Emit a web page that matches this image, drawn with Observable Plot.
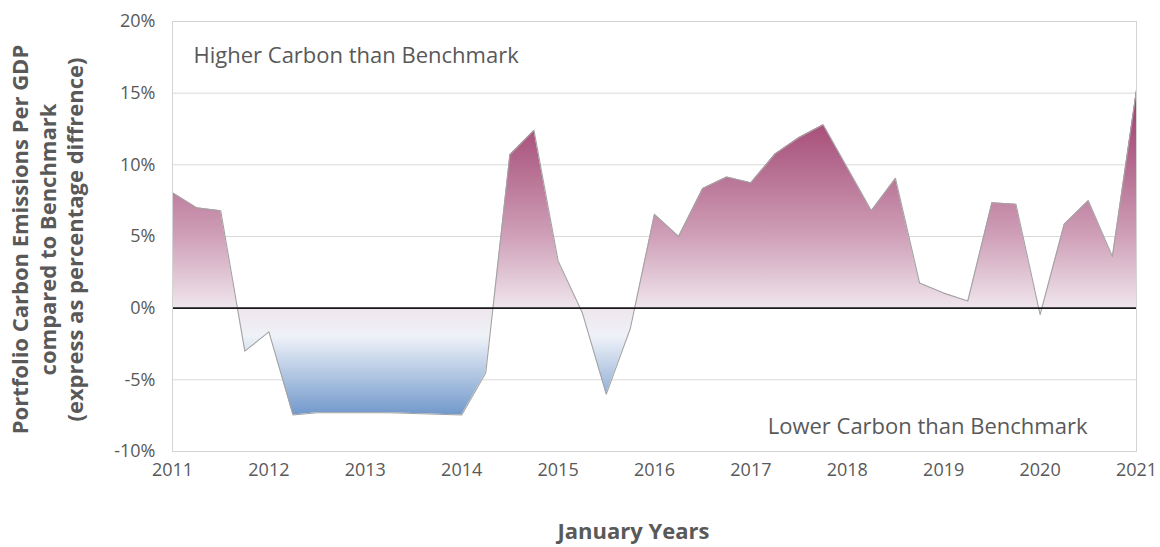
<!DOCTYPE html>
<html><head><meta charset="utf-8">
<script src="https://cdn.jsdelivr.net/npm/d3@7"></script>
<script src="https://cdn.jsdelivr.net/npm/@observablehq/plot@0.6"></script>
<style>body{margin:0;background:#fff;}</style>
</head><body><div id="chart"></div>
<script>
// Quarterly observation dates (decimal years)
const dates = [
  2011.00, 2011.25, 2011.50, 2011.75,
  2012.00, 2012.25, 2012.50, 2012.75,
  2013.00, 2013.25, 2013.50, 2013.75,
  2014.00, 2014.25, 2014.50, 2014.75,
  2015.00, 2015.25, 2015.50, 2015.75,
  2016.00, 2016.25, 2016.50, 2016.75,
  2017.00, 2017.25, 2017.50, 2017.75,
  2018.00, 2018.25, 2018.50, 2018.75,
  2019.00, 2019.25, 2019.50, 2019.75,
  2020.00, 2020.25, 2020.50, 2020.75,
  2021.00
];
// Portfolio vs benchmark difference (%)
const values = [
  8.05, 7.0, 6.8, -3.0,
  -1.65, -7.45, -7.3, -7.3,
  -7.3, -7.3, -7.35, -7.4,
  -7.45, -4.5, 10.7, 12.4,
  3.3, -0.3, -6.0, -1.4,
  6.55, 5.0, 8.35, 9.15,
  8.75, 10.75, 11.9, 12.8,
  9.8, 6.8, 9.05, 1.75,
  1.05, 0.5, 7.35, 7.25,
  -0.45, 5.85, 7.5, 3.6,
  15.2
];
const yTicks = [-10, -5, 0, 5, 10, 15, 20];
const xTicks = [2011, 2012, 2013, 2014, 2015, 2016, 2017, 2018, 2019, 2020, 2021];
const yTitleLines = [
  "Portfolio Carbon Emissions Per GDP",
  "compared to Benchmark",
  "(express as percentage diffrence)"
];
const xTitle = ["January Years"];
const higherLabel = ["Higher Carbon than Benchmark"];
const lowerLabel = ["Lower Carbon than Benchmark"];

const data = dates.map((d, i) => ({date: d, value: values[i]}));
const textColor = "#595959";
const font = "'Open Sans', sans-serif";

const chart = Plot.plot({
  width: 1160, height: 547,
  marginLeft: 172, marginRight: 24, marginTop: 21, marginBottom: 96,
  style: {fontFamily: font, fontSize: "18px", color: textColor, background: "#fff"},
  x: {domain: [2011, 2021], label: null},
  y: {domain: [-10, 20], label: null},
  marks: [
    Plot.gridY(yTicks, {stroke: "#d9d9d9", strokeOpacity: 1}),
    Plot.areaY(data, {x: "date", y1: 0, y2: "value", fill: "url(#carbonGrad)", curve: "linear"}),
    Plot.lineY(data, {x: "date", y: "value", stroke: "#a3a3a3", strokeWidth: 1.1}),
    Plot.ruleY([0], {stroke: "#1a1a1a", strokeWidth: 1.6}),
    Plot.frame({stroke: "#d3d3d3"}),
    Plot.axisY(yTicks, {tickSize: 0, tickPadding: 17, tickFormat: d => d + "%", fontSize: 18, fill: textColor, label: null}),
    Plot.axisX(xTicks, {tickSize: 0, tickPadding: 12, tickFormat: d => String(d), fontSize: 18, fill: textColor, label: null}),
    Plot.text(xTitle, {frameAnchor: "bottom", dx: -21, dy: 80, lineAnchor: "middle", fontWeight: "bold", fontSize: 22, fill: textColor}),
    Plot.text([yTitleLines[0]], {frameAnchor: "left", rotate: -90, dx: -152, dy: 3, textAnchor: "middle", fontWeight: "bold", fontSize: 22, fill: textColor}),
    Plot.text([yTitleLines[1]], {frameAnchor: "left", rotate: -90, dx: -124, dy: 3, textAnchor: "middle", fontWeight: "bold", fontSize: 22, fill: textColor}),
    Plot.text([yTitleLines[2]], {frameAnchor: "left", rotate: -90, dx: -97, dy: 3, textAnchor: "middle", fontWeight: "bold", fontSize: 22, fill: textColor}),
    Plot.text(higherLabel, {frameAnchor: "top-left", dx: 21, dy: 34, textAnchor: "start", lineAnchor: "middle", fontSize: 22, fill: textColor}),
    Plot.text(lowerLabel, {frameAnchor: "bottom-right", dx: -49, dy: -25, textAnchor: "end", lineAnchor: "middle", fontSize: 22, fill: textColor})
  ]
});

// vertical gradient tied to the y scale
const ys = chart.scale("y");
const ns = "http://www.w3.org/2000/svg";
const defs = document.createElementNS(ns, "defs");
const grad = document.createElementNS(ns, "linearGradient");
grad.setAttribute("id", "carbonGrad");
grad.setAttribute("gradientUnits", "userSpaceOnUse");
grad.setAttribute("x1", 0); grad.setAttribute("x2", 0);
grad.setAttribute("y1", ys.apply(15)); grad.setAttribute("y2", ys.apply(-8));
const stopsSpec = [
  [15, "#9e3a69"], [10, "#b46a8e"], [5, "#cfa0b8"], [0, "#efe5ec"],
  [-2, "#eef2f8"], [-8, "#6690c7"]
];
for (const [v, c] of stopsSpec) {
  const s = document.createElementNS(ns, "stop");
  s.setAttribute("offset", (ys.apply(v) - ys.apply(15)) / (ys.apply(-8) - ys.apply(15)));
  s.setAttribute("stop-color", c);
  grad.appendChild(s);
}
defs.appendChild(grad);
chart.insertBefore(defs, chart.firstChild);
document.getElementById("chart").appendChild(chart);
</script>
</body></html>
